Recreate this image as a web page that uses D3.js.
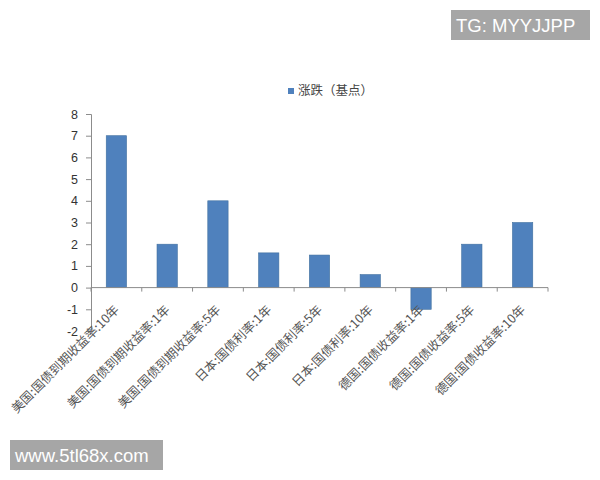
<!DOCTYPE html>
<html><head><meta charset="utf-8">
<script src="https://cdn.jsdelivr.net/npm/d3@7"></script>
<style>body{margin:0;background:#fff}svg{display:block}</style>
</head><body>
<script>
const categories = ["美国:国债到期收益率:10年","美国:国债到期收益率:1年","美国:国债到期收益率:5年","日本:国债利率:1年","日本:国债利率:5年","日本:国债利率:10年","德国:国债收益率:1年","德国:国债收益率:5年","德国:国债收益率:10年"];
const values = [7, 2, 4, 1.6, 1.5, 0.6, -1, 2, 3];
const seriesName = "涨跌（基点）";
const yTicks = [-2,-1,0,1,2,3,4,5,6,7,8];
const watermarkTop = "TG: MYYJJPP";
const watermarkBottom = "www.5tl68x.com";

const W=600,H=480;
const svg=d3.select("body").append("svg").attr("width",W).attr("height",H);
svg.append("rect").attr("width",W).attr("height",H).attr("fill","#fff");

const x=d3.scaleBand().domain(categories).range([91,548]).paddingInner(0.6).paddingOuter(0.3);
const y=d3.scaleLinear().domain([-2,8]).range([331,114]);
const axisColor="#8c8c8c";

// y axis
const ya=svg.append("g").attr("transform","translate(91,0)")
  .call(d3.axisLeft(y).tickValues(yTicks).tickSize(5).tickPadding(8).tickFormat(d=>String(d)));
ya.select(".domain").attr("stroke",axisColor);
ya.selectAll(".tick line").attr("stroke",axisColor);
ya.selectAll(".tick text").attr("fill","#333").style("font-family","'Liberation Sans',Arial,sans-serif").style("font-size","12.5px");

// bars
svg.append("g").selectAll("rect").data(values).join("rect")
  .attr("x",(d,i)=>x(categories[i]))
  .attr("width",x.bandwidth())
  .attr("y",d=>y(Math.max(0,d)))
  .attr("height",d=>Math.abs(y(d)-y(0)))
  .attr("fill","#4f81bd").attr("stroke","#41709f").attr("stroke-width",0.6);

// x axis line + ticks at band boundaries
const xa=svg.append("g");
xa.append("line").attr("x1",91).attr("x2",548).attr("y1",y(0)).attr("y2",y(0)).attr("stroke",axisColor);
const bounds=d3.range(categories.length+1).map(i=>91+i*(457/categories.length));
xa.selectAll(".xt").data(bounds).join("line").attr("class","xt")
  .attr("x1",d=>d).attr("x2",d=>d).attr("y1",y(0)).attr("y2",y(0)+4).attr("stroke",axisColor);

// x labels
svg.append("g").selectAll("text").data(categories).join("text")
  .attr("transform",d=>`translate(${x(d)+x.bandwidth()/2+3.5},${y(0)+23}) rotate(-45)`)
  .attr("text-anchor","end")
  .attr("fill","#555").style("font-family","'Noto Sans CJK SC',sans-serif").style("font-size","12.5px")
  .text(d=>d);

// legend
const lg=svg.append("g").attr("transform","translate(288,88)");
lg.append("rect").attr("width",6).attr("height",6).attr("fill","#4f81bd");
lg.append("text").attr("x",10).attr("y",3).attr("dy","0.35em").attr("fill","#444")
  .style("font-family","'Noto Sans CJK SC',sans-serif").style("font-size","12.5px").text(seriesName);

// watermarks
function wm(x0,y0,w,h,t){
  svg.append("rect").attr("x",x0).attr("y",y0).attr("width",w).attr("height",h).attr("fill","#a6a6a6");
  svg.append("text").attr("x",x0+5).attr("y",y0+h/2).attr("dy","0.36em").attr("fill","#fff")
    .style("font-family","'Liberation Sans',Arial,sans-serif").style("font-size","18.5px").text(t);
}
wm(451,10,139,30,watermarkTop);
wm(10,440,153,30,watermarkBottom);
</script>
</body></html>
